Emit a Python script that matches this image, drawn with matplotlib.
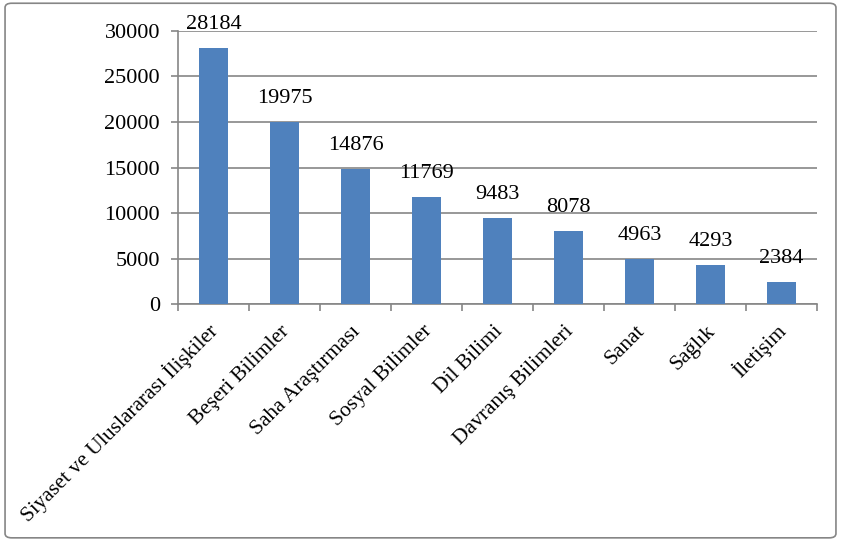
import matplotlib
matplotlib.use("Agg")
import matplotlib.pyplot as plt
from matplotlib.patches import FancyBboxPatch

# categories and counts
categories = ["Siyaset ve Uluslararası İlişkiler", "Beşeri Bilimler", "Saha Araştırması",
              "Sosyal Bilimler", "Dil Bilimi", "Davranış Bilimleri", "Sanat", "Sağlık", "İletişim"]
counts = [28184, 19975, 14876, 11769, 9483, 8078, 4963, 4293, 2384]
y_ticks = [0, 5000, 10000, 15000, 20000, 25000, 30000]

plt.rcParams['font.family'] = ['Liberation Serif', 'DejaVu Serif']

fig = plt.figure(figsize=(8.41, 5.40), dpi=100)
ax = fig.add_axes([0.2117, 0.437, 0.7598, 0.5056])

grey = "#868686"
fs = 16
x = list(range(len(categories)))
ax.bar(x, counts, width=0.4, color="#4F81BD", zorder=3)

for xi, v in zip(x, counts):
    ax.annotate(str(v), (xi, v), xytext=(0, 10), textcoords="offset points",
                ha="center", va="bottom", fontsize=fs, color="black")

ax.set_xlim(-0.5, len(categories) - 0.5)
ax.set_ylim(0, 30000)
ax.set_yticks(y_ticks)
ax.set_yticklabels([str(t) for t in y_ticks], fontsize=fs)
ax.yaxis.grid(True, color=grey, linewidth=1.2, zorder=0)
ax.set_axisbelow(True)

# x ticks at category boundaries, rotated category names under the bars
ax.set_xticks([i - 0.5 for i in range(len(categories) + 1)])
ax.set_xticklabels([])
for xi, cat in zip(x, categories):
    ax.annotate(cat, (xi, 0), xycoords=("data", "axes fraction"), xytext=(4, -20),
                textcoords="offset points", rotation=45, rotation_mode="anchor",
                ha="right", va="baseline", fontsize=15.5, annotation_clip=False)
ax.tick_params(axis="x", which="major", length=5, color=grey, width=1.2)
ax.tick_params(axis="y", length=5, color=grey, width=1.2, pad=8)

for s in ["top", "right"]:
    ax.spines[s].set_visible(False)
for s in ["left", "bottom"]:
    ax.spines[s].set_color(grey)
    ax.spines[s].set_linewidth(1.2)

# outer chart frame
frame = FancyBboxPatch((0.006, 0.004), 0.988, 0.99, boxstyle="round,pad=0,rounding_size=0.008",
                       transform=fig.transFigure, fill=False, edgecolor=grey, linewidth=1.2)
fig.patches.append(frame)

fig.savefig("out.png", dpi=100)
